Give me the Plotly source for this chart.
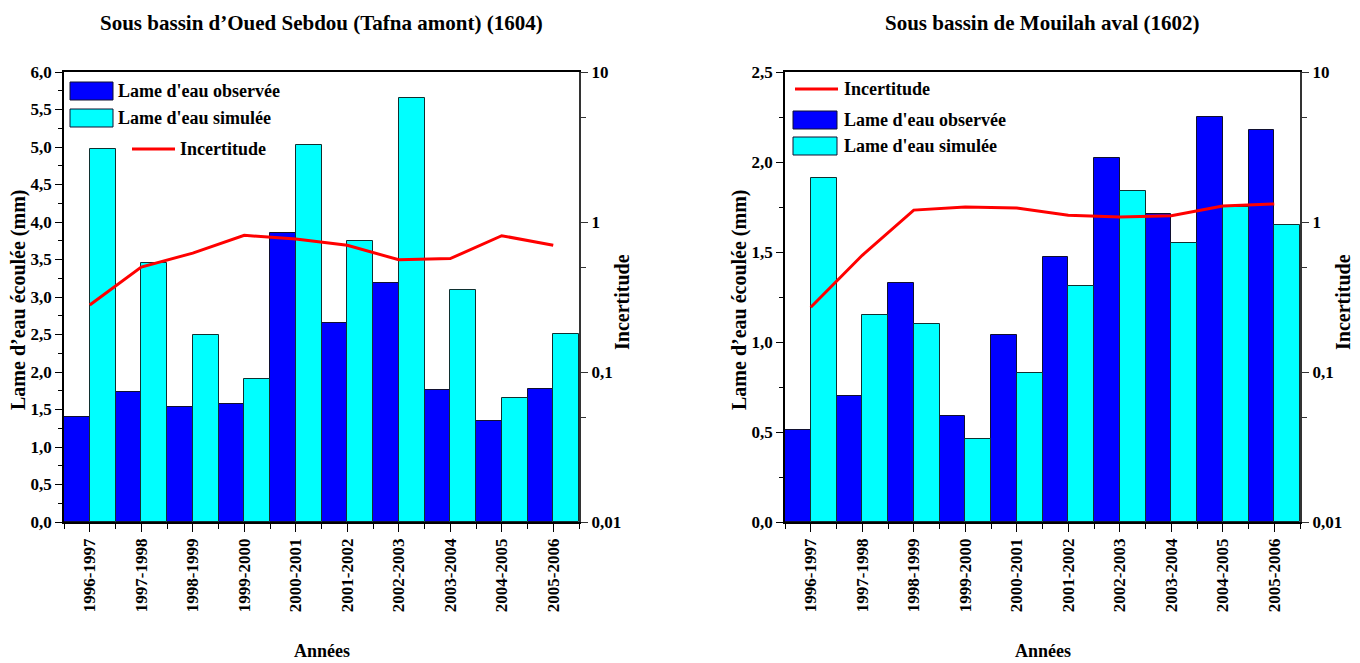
import math
import plotly.graph_objects as go
from plotly.subplots import make_subplots

# ---------------- data ----------------
years = ["1996-1997", "1997-1998", "1998-1999", "1999-2000", "2000-2001",
         "2001-2002", "2002-2003", "2003-2004", "2004-2005", "2005-2006"]

sebdou_obs = [1.40, 1.73, 1.54, 1.57, 3.86, 2.66, 3.19, 1.76, 1.35, 1.78]
sebdou_sim = [4.98, 3.45, 2.49, 1.91, 5.03, 3.75, 5.65, 3.09, 1.66, 2.51]
sebdou_inc = [0.28, 0.50, 0.62, 0.815, 0.77, 0.70, 0.56, 0.57, 0.81, 0.70]

mouilah_obs = [0.51, 0.70, 1.33, 0.59, 1.04, 1.47, 2.02, 1.71, 2.25, 2.18]
mouilah_sim = [1.91, 1.15, 1.10, 0.46, 0.83, 1.31, 1.84, 1.55, 1.75, 1.65]
mouilah_inc = [0.27, 0.60, 1.20, 1.26, 1.24, 1.11, 1.08, 1.10, 1.28, 1.32]

inc_ticks = [0.01, 0.1, 1, 10]
inc_ticktext = ["0,01", "0,1", "1", "10"]
inc_minor = [0.05, 0.5, 5]
ref_level = 1

titles = ["Sous bassin d\u2019Oued Sebdou (Tafna amont) (1604)",
          "Sous bassin de Mouilah aval (1602)"]
y_title = "Lame d\u2019eau \u00e9coul\u00e9e (mm)"
y2_title = "Incertitude"
x_title = "Ann\u00e9es"
lbl_obs = "Lame d'eau observ\u00e9e"
lbl_sim = "Lame d'eau simul\u00e9e"
lbl_inc = "Incertitude"

# ---------------- styling ----------------
OFF = 8                      # page body margin
W, H = 1360 - OFF, 663 - OFF
FONT = "Liberation Serif"
BLUE = "#0000FF"
CYAN = "#00FFFF"
RED = "#FF0000"
idx = list(range(len(years)))


def px(xp):
    return (xp - OFF) / W


def py(yp):
    return 1 - (yp - OFF) / H


fig = make_subplots(rows=1, cols=2,
                    specs=[[{"secondary_y": True}, {"secondary_y": True}]])

panels = [
    (1, sebdou_obs, sebdou_sim, sebdou_inc),
    (2, mouilah_obs, mouilah_sim, mouilah_inc),
]
for col, obs, sim, inc in panels:
    fig.add_trace(go.Bar(x=idx, y=obs, name=lbl_obs, marker_color=BLUE,
                         marker_line=dict(color="#101030", width=1),
                         showlegend=False), row=1, col=col, secondary_y=False)
    fig.add_trace(go.Bar(x=idx, y=sim, name=lbl_sim, marker_color=CYAN,
                         marker_line=dict(color="#103030", width=1),
                         showlegend=False), row=1, col=col, secondary_y=False)
    fig.add_trace(go.Scatter(x=idx, y=inc, name=lbl_inc, mode="lines",
                             line=dict(color=RED, width=3),
                             showlegend=False), row=1, col=col, secondary_y=True)

tickfont = dict(family=FONT, size=17, color="black", weight="bold")

domains_x = [[px(64), px(579)], [px(785), px(1300)]]
dom_y = [py(522), py(72)]
left_ranges = [[0, 6], [0, 2.5]]

xaxes = ["xaxis", "xaxis2"]
yaxes = [("yaxis", "yaxis2"), ("yaxis3", "yaxis4")]
for k in range(2):
    fig.layout[xaxes[k]].update(
        domain=domains_x[k], range=[-0.5, len(years) - 0.5],
        tickmode="array", tickvals=idx, ticktext=years, tickangle=-90,
        ticks="outside", ticklen=8, tickwidth=1, tickcolor="black",
        minor=dict(tickmode="array", tickvals=[i + 0.5 for i in range(-1, len(years))],
                   ticks="outside", ticklen=5, tickcolor="black"),
        showline=True, linecolor="black", linewidth=1.5, mirror=True,
        showgrid=False, zeroline=False, tickfont=tickfont, automargin=False)
    ya, yb = yaxes[k]
    fig.layout[ya].update(
        domain=dom_y, range=left_ranges[k], dtick=0.5, tickformat=".1f",
        ticks="outside", ticklen=7, tickcolor="black",
        minor=dict(dtick=0.25, ticks="outside", ticklen=4, tickcolor="black"),
        showline=True, linecolor="black", linewidth=1.5,
        showgrid=False, zeroline=False, tickfont=tickfont, automargin=False)
    fig.layout[yb].update(
        domain=dom_y, type="log", range=[-2, 1],
        tickmode="array", tickvals=inc_ticks, ticktext=inc_ticktext,
        ticks="outside", ticklen=7, tickcolor="#333",
        minor=dict(tickmode="array", tickvals=inc_minor, ticks="outside",
                   ticklen=5, tickcolor="#333"),
        showline=True, linecolor="#333", linewidth=2,
        showgrid=False, zeroline=False, tickfont=tickfont, automargin=False)

# reference line at Incertitude = 1
for k, yref in enumerate(["y2", "y4"]):
    fig.add_shape(type="line", xref=f"x{'' if k == 0 else 2} domain",
                  x0=0, x1=1, yref=yref,
                  y0=math.log10(ref_level), y1=math.log10(ref_level),
                  line=dict(color="black", width=1.2), layer="above")

ann = []
title_font = dict(family=FONT, size=21, color="black", weight="bold")
axis_font = dict(family=FONT, size=20, color="black", weight="bold")
xt_font = dict(family=FONT, size=18, color="black", weight="bold")
centers = [(64 + 579) / 2, (785 + 1300) / 2]
for k in range(2):
    ann.append(dict(text=titles[k], x=px(centers[k]), y=py(9), xref="paper",
                    yref="paper", showarrow=False, font=title_font,
                    xanchor="center", yanchor="top"))
    ann.append(dict(text=x_title, x=px(centers[k]), y=py(651), xref="paper",
                    yref="paper", showarrow=False, font=xt_font,
                    xanchor="center", yanchor="middle"))
ann.append(dict(text=y_title, x=px(18), y=py(300), xref="paper", yref="paper",
                showarrow=False, font=axis_font, textangle=-90,
                xanchor="center", yanchor="middle"))
ann.append(dict(text=y_title, x=px(739), y=py(300), xref="paper", yref="paper",
                showarrow=False, font=axis_font, textangle=-90,
                xanchor="center", yanchor="middle"))
ann.append(dict(text=y2_title, x=px(622), y=py(302), xref="paper", yref="paper",
                showarrow=False, font=axis_font, textangle=-90,
                xanchor="center", yanchor="middle"))
ann.append(dict(text=y2_title, x=px(1343), y=py(302), xref="paper", yref="paper",
                showarrow=False, font=axis_font, textangle=-90,
                xanchor="center", yanchor="middle"))

# ---- legends (drawn as shapes + text) ----
leg_font = dict(family=FONT, size=18, color="black", weight="bold")


def patch(x0, y0, x1, y1, color):
    fig.add_shape(type="rect", xref="paper", yref="paper",
                  x0=px(x0), x1=px(x1), y0=py(y1), y1=py(y0),
                  fillcolor=color, line=dict(color="#101030", width=1))


def legline(x0, x1, y):
    fig.add_shape(type="line", xref="paper", yref="paper",
                  x0=px(x0), x1=px(x1), y0=py(y), y1=py(y),
                  line=dict(color=RED, width=3))


def legtext(x, y, t):
    ann.append(dict(text=t, x=px(x), y=py(y), xref="paper", yref="paper",
                    showarrow=False, font=leg_font, xanchor="left",
                    yanchor="middle"))


# left panel
patch(70, 82, 113, 100, BLUE)
legtext(116, 91, lbl_obs)
patch(70, 109, 113, 127, CYAN)
legtext(116, 118, lbl_sim)
legline(132, 175, 149)
legtext(178, 149, lbl_inc)
# right panel
legline(795, 838, 89)
legtext(842, 89, lbl_inc)
patch(793, 111, 837, 129, BLUE)
legtext(842, 120, lbl_obs)
patch(793, 137, 837, 155, CYAN)
legtext(842, 146, lbl_sim)

fig.update_layout(
    width=W, height=H, margin=dict(l=0, r=0, t=0, b=0),
    barmode="group", bargap=0, bargroupgap=0,
    plot_bgcolor="white", paper_bgcolor="white",
    separators=", ", showlegend=False,
    font=dict(family=FONT, color="black"),
    annotations=ann,
)

fig.write_html("out.html")
